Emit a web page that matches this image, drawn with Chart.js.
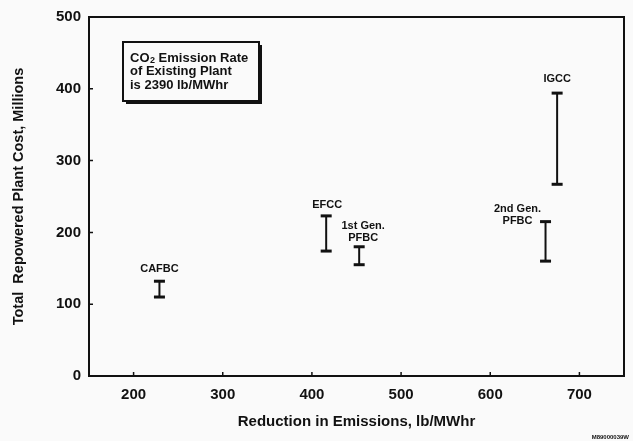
<!DOCTYPE html>
<html>
<head>
<meta charset="utf-8">
<script src="https://cdn.jsdelivr.net/npm/chart.js@4.4.0/dist/chart.umd.min.js"></script>
<style>
  html, body { margin: 0; padding: 0; background: #fafafa; }
</style>
</head>
<body>
<canvas id="myChart" width="633" height="441"></canvas>
<script>
var plants = [['CAFBC'], ['EFCC'], ['1st Gen.', 'PFBC'], ['2nd Gen.', 'PFBC'], ['IGCC']];
var reduction = [229, 416, 453, 662, 675];
var costLow = [110, 174, 155, 160, 267];
var costHigh = [132, 223, 180, 215, 394];
var xTicks = [200, 300, 400, 500, 600, 700];
var yTicks = [0, 100, 200, 300, 400, 500];
var noteLines = ['Emission Rate', 'of Existing Plant', 'is 2390 lb/MWhr'];

var FONT = "'Liberation Sans', Arial, sans-serif";

// label placement relative to the top of each bar (dx, dy of first line)
var labelOffsets = [[0, -12], [1, -11], [4, -21], [-28, -13], [0, -14]];

var datasets = plants.map(function (p, i) {
    return {
        label: p.join(' '),
        data: [{x: reduction[i], y: costLow[i]}, {x: reduction[i], y: costHigh[i]}],
        showLine: true,
        borderColor: '#111',
        borderWidth: 2,
        pointStyle: 'line',
        pointRadius: 5.5,
        pointBorderWidth: 3,
        pointBorderColor: '#111'
    };
});

var framePlugin = {
    id: 'frame',
    afterDraw: function (chart) {
        var ctx = chart.ctx, a = chart.chartArea;
        var xs = chart.scales.x, ys = chart.scales.y;
        ctx.save();
        ctx.strokeStyle = '#111';
        ctx.lineWidth = 2;
        ctx.strokeRect(a.left, a.top, a.right - a.left, a.bottom - a.top);
        ctx.lineWidth = 1.5;
        ctx.beginPath();
        xTicks.forEach(function (v) {
            var px = xs.getPixelForValue(v);
            ctx.moveTo(px, a.bottom);
            ctx.lineTo(px, a.bottom - 4);
        });
        yTicks.forEach(function (v) {
            var py = ys.getPixelForValue(v);
            ctx.moveTo(a.left, py);
            ctx.lineTo(a.left + 4, py);
        });
        ctx.stroke();

        // note box
        var bx = 123, by = 42, bw = 136, bh = 59;
        ctx.fillStyle = '#111';
        ctx.fillRect(bx + 3, by + 3, bw, bh);
        ctx.fillStyle = '#fafafa';
        ctx.fillRect(bx, by, bw, bh);
        ctx.lineWidth = 2;
        ctx.strokeRect(bx, by, bw, bh);
        ctx.fillStyle = '#111';
        ctx.textBaseline = 'middle';
        ctx.textAlign = 'left';
        ctx.font = 'bold 13px ' + FONT;
        var tx = 130;
        ctx.fillText('CO', tx, 58);
        var w = ctx.measureText('CO').width;
        ctx.font = 'bold 9px ' + FONT;
        ctx.fillText('2', tx + w + 0.5, 61);
        var w2 = ctx.measureText('2').width;
        ctx.font = 'bold 13px ' + FONT;
        ctx.fillText(' ' + noteLines[0], tx + w + w2 + 0.5, 58);
        ctx.fillText(noteLines[1], tx, 71.5);
        ctx.fillText(noteLines[2], tx, 85);

        // figure id
        ctx.font = 'bold 6px ' + FONT;
        ctx.textAlign = 'right';
        ctx.fillText('M89000039W', 629, 437);
        ctx.restore();
    }
};

var labelPlugin = {
    id: 'barLabels',
    afterDatasetsDraw: function (chart) {
        var ctx = chart.ctx;
        var xs = chart.scales.x, ys = chart.scales.y;
        ctx.save();
        ctx.fillStyle = '#111';
        ctx.font = 'bold 11px ' + FONT;
        ctx.textAlign = 'center';
        ctx.textBaseline = 'middle';
        plants.forEach(function (lines, i) {
            var px = xs.getPixelForValue(reduction[i]) + labelOffsets[i][0];
            var py = ys.getPixelForValue(costHigh[i]) + labelOffsets[i][1];
            lines.forEach(function (t, j) {
                ctx.fillText(t, px, py + j * 12);
            });
        });
        ctx.restore();
    }
};

var ctx = document.getElementById('myChart').getContext('2d');
var myChart = new Chart(ctx, {
    type: 'scatter',
    data: { datasets: datasets },
    plugins: [framePlugin, labelPlugin],
    options: {
        responsive: false,
        animation: false,
        devicePixelRatio: 1,
        events: [],
        layout: { padding: { left: 0, right: 9, top: 13, bottom: 0 } },
        plugins: { legend: { display: false }, tooltip: { enabled: false } },
        scales: {
            x: {
                type: 'linear',
                min: 150,
                max: 750,
                afterBuildTicks: function (s) { s.ticks = xTicks.map(function (v) { return {value: v}; }); },
                afterFit: function (s) { s.height = 65; },
                grid: { display: false, drawTicks: false },
                border: { display: false },
                ticks: { color: '#111', padding: 10, font: { family: FONT, size: 15, weight: 'bold' } },
                title: {
                    display: true,
                    text: 'Reduction in Emissions, lb/MWhr',
                    color: '#111',
                    font: { family: FONT, size: 15, weight: 'bold' },
                    padding: { top: 4, bottom: 10 }
                }
            },
            y: {
                type: 'linear',
                min: 0,
                max: 500,
                afterBuildTicks: function (s) { s.ticks = yTicks.map(function (v) { return {value: v}; }); },
                afterFit: function (s) { s.width = 89; },
                grid: { display: false, drawTicks: false },
                border: { display: false },
                ticks: { color: '#111', padding: 8, font: { family: FONT, size: 15, weight: 'bold' } },
                title: {
                    display: true,
                    text: 'Total  Repowered Plant Cost, Millions',
                    color: '#111',
                    font: { family: FONT, size: 14.5, weight: 'bold' },
                    padding: { top: 10, bottom: 4 }
                }
            }
        }
    }
});
</script>
</body>
</html>
